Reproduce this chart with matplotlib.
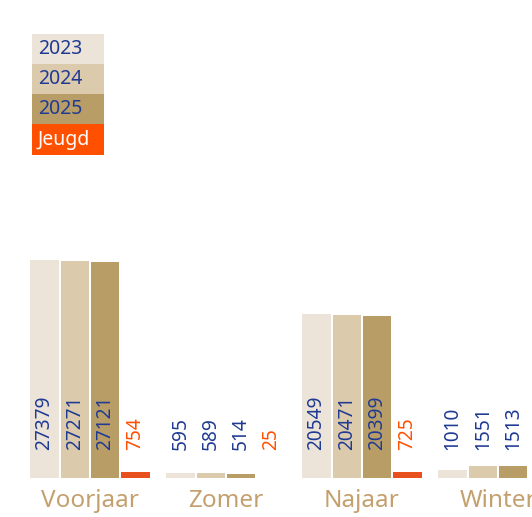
import matplotlib
matplotlib.use("Agg")
import matplotlib.pyplot as plt
from matplotlib.patches import Rectangle

plt.rcParams['font.family'] = ['Noto Sans', 'DejaVu Sans']

categories = ["Voorjaar", "Zomer", "Najaar", "Winter"]
series_names = ["2023", "2024", "2025", "Jeugd"]
values = {
    "2023": [27379, 595, 20549, 1010],
    "2024": [27271, 589, 20471, 1551],
    "2025": [27121, 514, 20399, 1513],
    "Jeugd": [754, 25, 725, 30],
}
bar_colors = {"2023": "#ece4d9", "2024": "#dbcaac", "2025": "#b89d66", "Jeugd": "#e8501e"}
legend_colors = {"2023": "#ece4d9", "2024": "#dbcaac", "2025": "#b89d66", "Jeugd": "#ff5000"}
label_colors = {"2023": "#1f3a93", "2024": "#1f3a93", "2025": "#1f3a93", "Jeugd": "#ff5000"}
cat_color = "#c4a06e"

W, H = 532, 517
fig = plt.figure(figsize=(W / 100, H / 100), dpi=100)
base_px = 478
ax = fig.add_axes([0, (H - base_px) / H, 1, base_px / H])
ax.set_axis_off()

scale = 218 / 27379.0
ax.set_ylim(0, base_px / scale)
xmin, xmax = -90 / 136, (W - 90) / 136
ax.set_xlim(xmin, xmax)

pitch = 30.3 / 136
bw = 28.5 / 136
label_y = 28 / scale
for j, s in enumerate(series_names):
    xs = [i + (j - 1.5) * pitch for i in range(len(categories))]
    ax.bar(xs, values[s], width=bw, color=bar_colors[s], linewidth=0)
    for x, v in zip(xs, values[s]):
        if x + bw / 2 > xmax:
            continue  # outside the visible canvas, as in the reference
        ax.text(x, label_y, str(v), rotation=90, ha='center', va='bottom',
                fontsize=13.7, color=label_colors[s])

for i, c in enumerate(categories):
    fig.text((90 + 136 * i) / W, 1 - 501 / H, c, ha='center', va='center',
             fontsize=17.5, color=cat_color)

# legend
tops = [34, 64, 94, 124]
for k, s in enumerate(series_names):
    y0 = tops[k]
    h = 31 if k == 3 else 30
    fig.patches.append(Rectangle((32 / W, 1 - (y0 + h) / H), 72 / W, h / H,
                                 transform=fig.transFigure, facecolor=legend_colors[s],
                                 edgecolor='none'))
    fig.text(38 / W, 1 - (y0 + h / 2) / H, s, ha='left', va='center', fontsize=14,
             color='white' if s == "Jeugd" else "#1f3a93")

fig.savefig("out.png", dpi=100)
